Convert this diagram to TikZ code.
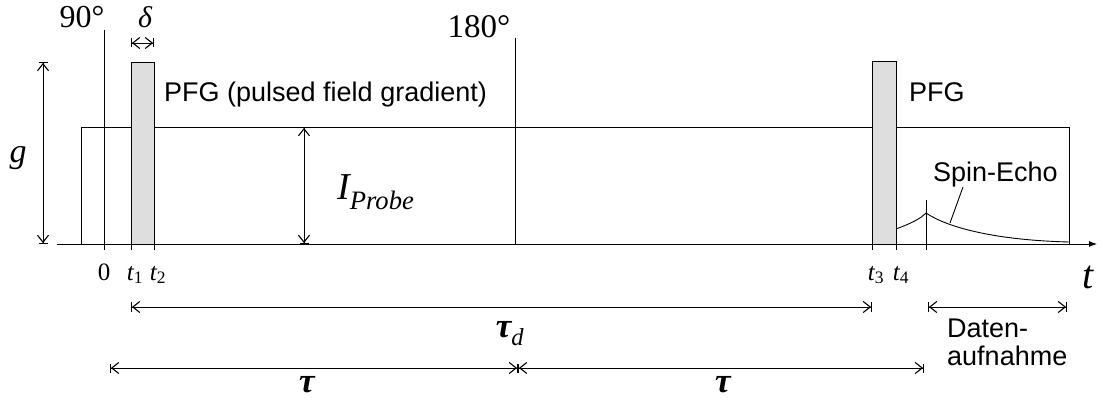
\documentclass[tikz,border=0pt]{standalone}
\usepackage{fontspec}
\setmainfont{Liberation Serif}
\newfontfamily\sansf{Liberation Sans}
\usetikzlibrary{arrows.meta}
\begin{document}
\begin{tikzpicture}[x=1pt,y=-1pt,
  ln/.style={line width=0.9pt},
  dim/.style={ln, {Bar[width=9pt,line width=0.9pt]Straight Barb[length=7pt,width=11pt,line width=1.1pt]}-{Straight Barb[length=7pt,width=11pt,line width=1.1pt]Bar[width=9pt,line width=0.9pt]}},
  pfg/.style={ln, fill=black!13},
  sanslbl/.style={font=\sansf\fontsize{27}{30}\selectfont, inner sep=0pt, anchor=base west, align=left},
  ser/.style={inner sep=0pt, anchor=base},
]
\useasboundingbox (0,0) rectangle (1101,398);
% axis
\coordinate (ax0) at (57,244);
\coordinate (ax1) at (1097,244);
\draw[ln,-{Latex[length=8pt,width=6pt]}] (ax0) -- (ax1);
% probe rectangle
\coordinate (rl) at (81,244);
\coordinate (rt) at (1069,127);
\coordinate (rr) at (1069,244);
\draw[ln] (rl) |- (rt) -- (rr);
% pulses
\coordinate (p90a) at (104,30);  \coordinate (p90b) at (104,250);
\coordinate (p180a) at (515,38); \coordinate (p180b) at (515,244);
\draw[ln] (p90a) -- (p90b);
\draw[ln] (p180a) -- (p180b);
% PFG pulses
\draw[pfg] (131,244) rectangle (154,62);
\draw[pfg] (872,244) rectangle (896,61);
\draw[ln] (131,244) -- (131,250);
\draw[ln] (154,244) -- (154,250);
\draw[ln] (872,244) -- (872,250);
\draw[ln] (896,244) -- (896,250);
% echo
\coordinate (e0) at (896,229);
\coordinate (ep) at (926,213);
\coordinate (e1) at (1069,242);
\draw[ln] (e0) .. controls (912,223) and (920,219) .. (ep);
\draw[ln] (ep) .. controls (945,226) and (990,240) .. (e1);
\coordinate (ev0) at (926,200); \coordinate (ev1) at (926,250);
\draw[ln] (ev0) -- (ev1);
% dimension arrows
\coordinate (d0) at (131,43); \coordinate (d1) at (154,43);
\draw[dim] (d0) -- (d1);
\coordinate (g0) at (43,62); \coordinate (g1) at (43,244);
\draw[dim] (g0) -- (g1);
\coordinate (i0) at (304,127); \coordinate (i1) at (304,244);
\draw[dim] (i0) -- (i1);
\coordinate (td0) at (131,307); \coordinate (td1) at (872,307);
\draw[dim] (td0) -- (td1);
\coordinate (da0) at (928,307); \coordinate (da1) at (1067,307);
\draw[dim] (da0) -- (da1);
\coordinate (ta0) at (110,368); \coordinate (ta1) at (518,368); \coordinate (ta2) at (924,368);
\draw[dim] (ta0) -- (ta1);
\draw[dim] (ta1) -- (ta2);
% labels (serif)
\node[ser, font=\fontsize{32}{36}\selectfont] (l90) at (82,28) {90°};
\node[ser, font=\fontsize{33}{36}\selectfont] (l180) at (479,38) {180°};
\node[ser, font=\fontsize{30}{36}\selectfont\itshape] (ldelta) at (145,28) {δ};
\node[ser, font=\fontsize{34}{36}\selectfont\itshape] (lg) at (18,163) {g};
\node[inner sep=0pt, anchor=base west, font=\fontsize{38}{40}\selectfont\itshape] (lI) at (337,200) {I\textsubscript{Probe}};
\node[ser, font=\fontsize{40}{44}\selectfont\itshape] (lt) at (1088,288) {t};
\node[ser, font=\fontsize{25}{28}\selectfont] (l0) at (104,280) {0};
\node[ser, font=\fontsize{25}{28}\selectfont\itshape] (lt1) at (135,280) {t\textsubscript{\upshape 1}};
\node[ser, font=\fontsize{25}{28}\selectfont\itshape] (lt2) at (158,280) {t\textsubscript{\upshape 2}};
\node[ser, font=\fontsize{25}{28}\selectfont\itshape] (lt3) at (876,280) {t\textsubscript{\upshape 3}};
\node[ser, font=\fontsize{25}{28}\selectfont\itshape] (lt4) at (901,280) {t\textsubscript{\upshape 4}};
\node[ser, font=\fontsize{35}{36}\selectfont\itshape\bfseries] (ltd) at (510,337) {τ\textsubscript{\mdseries d}};
\node[ser, font=\fontsize{35}{36}\selectfont\itshape\bfseries] (ltau1) at (307,392) {τ};
\node[ser, font=\fontsize{35}{36}\selectfont\itshape\bfseries] (ltau2) at (723,392) {τ};
% labels (sans)
\node[sanslbl] (lpfg1) at (164,102) {PFG (pulsed field gradient)};
\node[sanslbl] (lpfg2) at (909,102) {PFG};
\node[sanslbl] (lse) at (933,182) {Spin-Echo};
\node[sanslbl] (lda) at (947,337) {Daten-};
\node[sanslbl] (lda2) at (947,365) {aufnahme};
\coordinate (sp0) at (963,187); \coordinate (sp1) at (950,223);
\draw[ln] (sp0) -- (sp1);
\end{tikzpicture}
\end{document}
